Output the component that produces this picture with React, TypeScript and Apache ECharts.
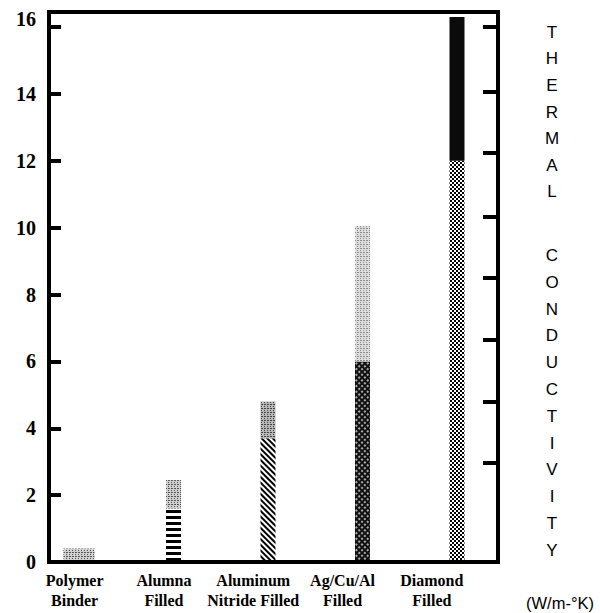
import React, { useEffect, useRef } from "react";
import * as echarts from "echarts";

const categories = ["Polymer\nBinder", "Alumna\nFilled", "Aluminum\nNitride Filled", "Ag/Cu/Al\nFilled", "Diamond\nFilled"];
const binderValues = [0.4, null, null, null, null];
const fillerBase = [null, 1.6, 3.7, 6.0, 12.0];
const fillerTop = [null, 0.85, 1.1, 4.05, 4.3];
const yLabelValues = [0, 2, 4, 6, 8, 10, 12, 14, 16];
const leftTickValues = [2, 4, 6, 8, 10, 12, 14, 16];
const rightTickValues = [16, 14.07, 12.25, 10.33, 8.5, 6.65, 4.79, 2.96];
const yMax = 16.45;
const titleTop = "T\nH\nE\nR\nM\nA\nL";
const titleBottom = "C\nO\nN\nD\nU\nC\nT\nI\nV\nI\nT\nY";
const unitText = "(W/m-°K)";

const stipple = (bg: string, fg: string) => ({
  color: bg,
  decal: { symbol: "rect", symbolSize: 1, dashArrayX: [[1, 2], [2, 1]], dashArrayY: [1, 1], color: fg },
});

const baseStyles: any[] = [
  null,
  { color: "#fff", decal: { symbol: "rect", symbolSize: 1, dashArrayX: [1, 0], dashArrayY: [3, 3], color: "#000" } },
  { color: "#fff", decal: { symbol: "rect", symbolSize: 1, dashArrayX: [1, 0], dashArrayY: [2, 2], rotation: Math.PI / 4, color: "#000" } },
  { color: "#111", decal: { symbol: "circle", symbolSize: 0.8, dashArrayX: [2, 2], dashArrayY: [2, 2], rotation: Math.PI / 4, color: "#fff" } },
  { color: "#fff", decal: { symbol: "rect", symbolSize: 1, dashArrayX: [[2, 2], [0, 2, 2, 0]], dashArrayY: [2, 0], color: "#000" } },
];
const topStyles: any[] = [
  null,
  stipple("#cfcfcf", "#555"),
  stipple("#b8b8b8", "#444"),
  stipple("#dedede", "#8a8a8a"),
  { color: "#0b0b0b" },
];

const serif = '"Liberation Serif", "Times New Roman", serif';
const sans = '"Liberation Sans", Arial, sans-serif';

export default function App() {
  const ref = useRef<HTMLDivElement>(null);
  useEffect(() => {
    if (!ref.current) return;
    const chart = echarts.init(ref.current, undefined, { renderer: "svg" });
    const hidden = { show: false };
    chart.setOption({
      animation: false,
      backgroundColor: "#fff",
      grid: [
        { left: 49, right: 102, top: 12, bottom: 51, show: true, borderColor: "#000", borderWidth: 4, backgroundColor: "transparent", z: 5 },
        { left: 31.75, right: 95.75, top: 12, bottom: 51 },
        { left: 30, right: 123.5, top: 12, bottom: 51 },
      ],
      xAxis: [
        { type: "category", gridIndex: 0, data: categories, show: false },
        { type: "category", gridIndex: 1, data: categories, show: false },
        { type: "category", gridIndex: 1, data: categories, show: false },
        {
          type: "category", gridIndex: 2, data: categories,
          axisLine: hidden, axisTick: hidden,
          axisLabel: { color: "#000", fontFamily: serif, fontWeight: "bold", fontSize: 16, lineHeight: 20, margin: 8, interval: 0 },
        },
      ],
      yAxis: [
        {
          type: "value", gridIndex: 0, min: 0, max: yMax, position: "left",
          splitLine: hidden, axisLine: hidden,
          axisTick: { show: true, inside: true, length: 12, lineStyle: { width: 4, color: "#000" }, customValues: leftTickValues },
          axisLabel: {
            customValues: yLabelValues, color: "#000", fontFamily: serif, fontWeight: "bold", fontSize: 20, margin: 13,
            formatter: (v: number) => (v === 16 ? "{hi|16}" : String(v)),
            rich: { hi: { padding: [0, 0, 16, 0], fontFamily: serif, fontWeight: "bold", fontSize: 20, color: "#000" } },
          },
        },
        {
          type: "value", gridIndex: 0, min: 0, max: yMax, position: "right",
          splitLine: hidden, axisLine: hidden,
          axisTick: { show: true, inside: true, length: 15, lineStyle: { width: 4, color: "#000" }, customValues: rightTickValues },
          axisLabel: hidden,
        },
        { type: "value", gridIndex: 1, min: 0, max: yMax, show: false, splitLine: hidden },
        { type: "value", gridIndex: 2, min: 0, max: yMax, show: false, splitLine: hidden },
      ],
      series: [
        {
          type: "bar", xAxisIndex: 2, yAxisIndex: 2, barWidth: 31,
          data: binderValues.map((v) => (v == null ? "-" : v)),
          itemStyle: stipple("#d0d0d0", "#555"),
        },
        {
          type: "bar", xAxisIndex: 1, yAxisIndex: 2, barWidth: 15, stack: "f",
          data: fillerBase.map((v, i) => (v == null ? "-" : { value: v, itemStyle: baseStyles[i] })),
        },
        {
          type: "bar", xAxisIndex: 1, yAxisIndex: 2, barWidth: 15, stack: "f",
          data: fillerTop.map((v, i) => (v == null ? "-" : { value: v, itemStyle: topStyles[i] })),
        },
      ],
      graphic: [
        { type: "text", x: 552, y: 19, style: { text: titleTop, font: `17px ${sans}`, lineHeight: 26.6, align: "center", fill: "#000" } },
        { type: "text", x: 552, y: 242, style: { text: titleBottom, font: `17px ${sans}`, lineHeight: 26.8, align: "center", fill: "#000" } },
        { type: "text", x: 526, y: 594, style: { text: unitText, font: `16.5px ${sans}`, fill: "#000" } },
      ],
    });
    return () => chart.dispose();
  }, []);
  return <div ref={ref} style={{ position: "fixed", left: 0, top: 0, width: 600, height: 613 }} />;
}
